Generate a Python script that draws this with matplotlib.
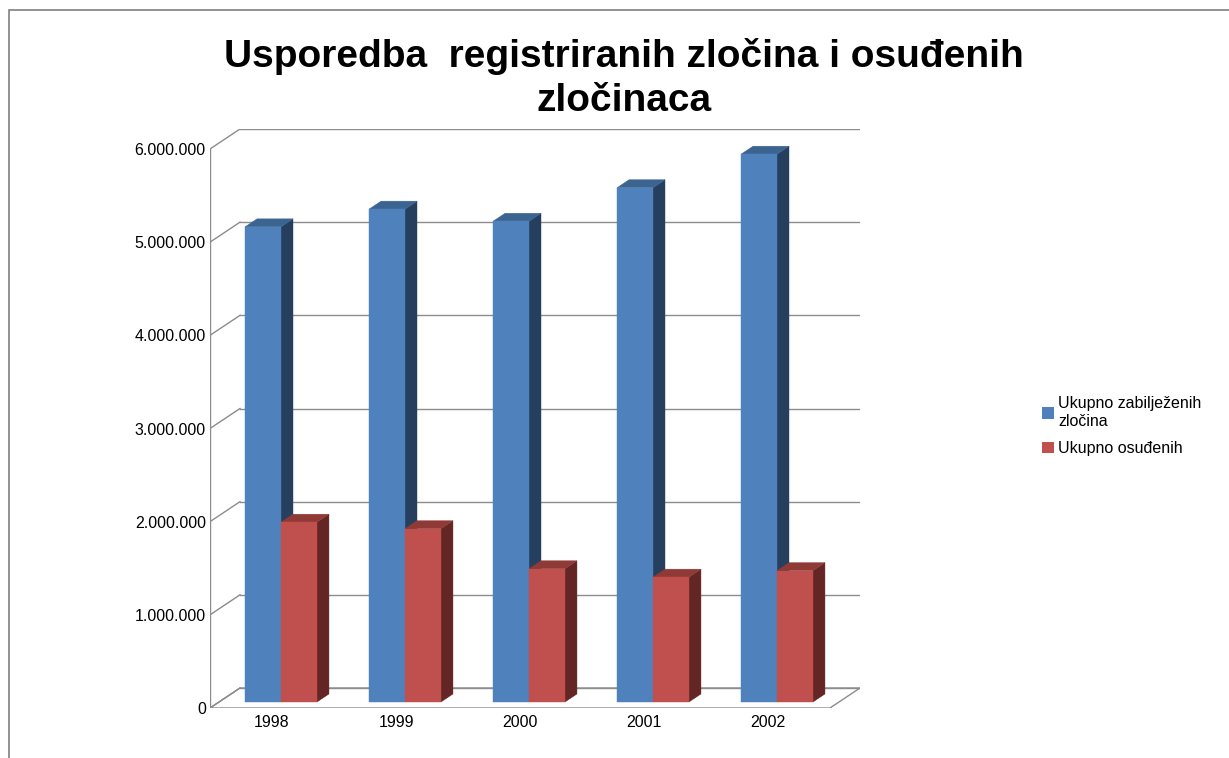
import matplotlib.pyplot as plt
from matplotlib.patches import Patch, Polygon, Rectangle

plt.rcParams["font.family"] = ["Liberation Sans", "DejaVu Sans"]

years = ["1998", "1999", "2000", "2001", "2002"]
recorded = [5_100_000, 5_290_000, 5_160_000, 5_520_000, 5_880_000]
convicted = [1_930_000, 1_860_000, 1_430_000, 1_340_000, 1_410_000]
series_names = ["Ukupno zabilježenih\nzločina", "Ukupno osuđenih"]
y_ticks = [0, 1_000_000, 2_000_000, 3_000_000, 4_000_000, 5_000_000, 6_000_000]

# face colours: front, top, side
BLUE = ("#4f81bd", "#3c6491", "#263f5e")
RED = ("#c0504d", "#8f3a37", "#632624")
GRID = "#8c8c8c"

W, H = 1229, 758
# plot box in pixels: front plane x 210..830, y 708 (0) .. 149 (6M)
FX0, FX1, FY0, FY6 = 210, 830, 708, 149
DPX, DPY = 30, 20  # oblique depth of the back wall in pixels

n = len(years)
cat_px = (FX1 - FX0) / n
val_px = (FY0 - FY6) / y_ticks[-1]
DX = DPX / cat_px
DY = DPY / val_px

fig = plt.figure(figsize=(W / 100, H / 100), dpi=100)
ax = fig.add_axes([FX0 / W, (H - FY0) / H, (FX1 - FX0 + DPX) / W, (FY0 - FY6 + DPY) / H])
ax.set_xlim(0, n + DX)
ax.set_ylim(0, y_ticks[-1] + DY)
for s in ax.spines.values():
    s.set_visible(False)

# floor
ax.add_patch(Polygon([(0, 0), (n, 0), (n + DX, DY), (DX, DY)], closed=True,
                     facecolor="white", edgecolor=GRID, lw=1.0, zorder=1))
# back wall gridlines and the diagonal ticks from the front axis
for v in y_ticks:
    ax.plot([DX, n + DX], [v + DY, v + DY], color=GRID, lw=1.0, zorder=1)
    ax.plot([0, DX], [v, v + DY], color=GRID, lw=1.0, zorder=1)
ax.plot([0, 0], [0, y_ticks[-1]], color=GRID, lw=1.0, zorder=1)


def bar3d(x0, x1, v, colors, z):
    f0, f1 = 0.3, 0.7
    front, top, side = colors
    bx, by = f0 * DX, f0 * DY
    ex, ey = f1 * DX, f1 * DY
    ax.add_patch(Polygon([(x1 + bx, by), (x1 + ex, ey), (x1 + ex, v + ey), (x1 + bx, v + by)],
                         closed=True, facecolor=side, edgecolor=side, lw=0.3, zorder=z))
    ax.add_patch(Polygon([(x0 + bx, v + by), (x1 + bx, v + by), (x1 + ex, v + ey), (x0 + ex, v + ey)],
                         closed=True, facecolor=top, edgecolor=top, lw=0.3, zorder=z))
    ax.add_patch(Rectangle((x0 + bx, by), x1 - x0, v, facecolor=front,
                           edgecolor=front, lw=0.3, zorder=z))


for i in range(n):
    bar3d(i + 0.21, i + 0.50, recorded[i], BLUE, 2 + i * 2)
    bar3d(i + 0.50, i + 0.79, convicted[i], RED, 3 + i * 2)

ax.set_yticks(y_ticks)
ax.set_yticklabels([f"{v:,}".replace(",", ".") for v in y_ticks], fontsize=11.5)
ax.set_xticks([i + 0.5 for i in range(n)])
ax.set_xticklabels(years, fontsize=11.5)
ax.tick_params(axis="both", length=0)
ax.tick_params(axis="y", pad=3)
ax.tick_params(axis="x", pad=5)

fig.text(624 / W, 1 - 38 / H, "Usporedba  registriranih zločina i osuđenih\nzločinaca",
         ha="center", va="top", fontsize=28, fontweight="bold", linespacing=1.3)

handles = [Patch(facecolor=BLUE[0], edgecolor="none"), Patch(facecolor=RED[0], edgecolor="none")]
fig.legend(handles, series_names, loc="upper left", bbox_to_anchor=(1036 / W, 1 - 390 / H),
           frameon=False, fontsize=11.5, handlelength=0.7, handleheight=0.7,
           handletextpad=0.3, labelspacing=0.75, borderaxespad=0)

# outer frame
fig.add_artist(Rectangle((9 / W, -0.05), 1.1, 1 - 10 / H + 0.05, transform=fig.transFigure,
                         fill=False, edgecolor="#7f7f7f", lw=1.2))

fig.savefig("out.png", dpi=100)
